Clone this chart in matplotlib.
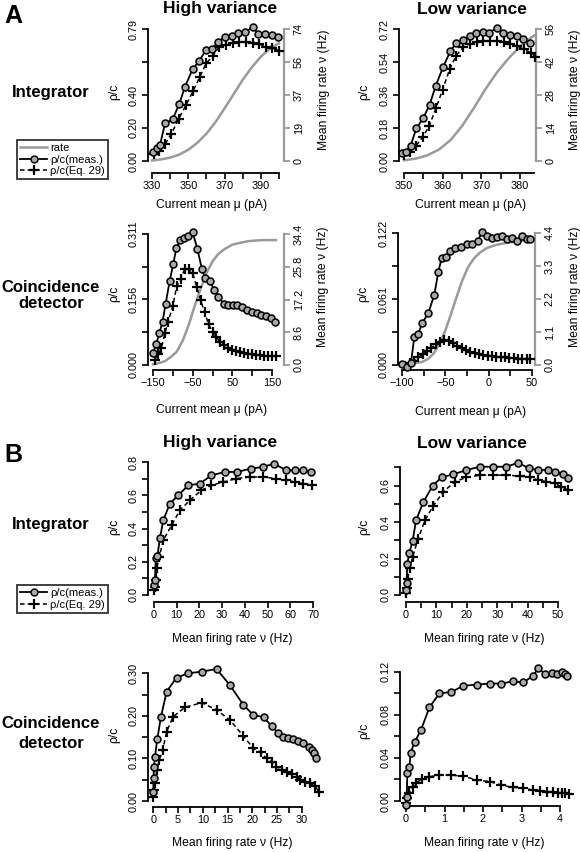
import matplotlib
matplotlib.use("Agg")
import matplotlib.pyplot as plt
from matplotlib.lines import Line2D

plt.rcParams["font.family"] = ["Liberation Sans", "DejaVu Sans"]

# ---- A: rho/c and rate versus current mean ----
# high variance, integrator
a1_mu_meas = [330.4, 332.6, 334.4, 337.2, 341.4, 345.0, 348.2, 352.4, 356.0, 359.8, 362.9,
              366.6, 370.2, 373.9, 377.6, 381.3, 385.8, 388.6, 392.3, 396.0, 399.6]
a1_rho_meas = [0.056, 0.076, 0.096, 0.225, 0.249, 0.341, 0.445, 0.549, 0.600, 0.664, 0.668,
               0.714, 0.744, 0.748, 0.764, 0.774, 0.800, 0.760, 0.760, 0.754, 0.744]
a1_mu_eq = [331.0, 334.0, 337.4, 340.7, 344.8, 348.7, 352.7, 356.4, 359.8, 363.5, 367.0,
            370.7, 374.4, 378.2, 381.8, 385.5, 389.1, 392.8, 396.4, 400.0]
a1_rho_eq = [0.044, 0.060, 0.104, 0.164, 0.254, 0.334, 0.420, 0.504, 0.584, 0.628, 0.684,
             0.694, 0.708, 0.714, 0.710, 0.708, 0.700, 0.684, 0.674, 0.660]
a1_mu_rate = [330, 335, 340, 345, 350, 355, 360, 365, 370, 375, 380, 385, 390, 395, 400]
a1_rate = [0.3, 0.9, 1.9, 3.6, 6.3, 10.2, 15.3, 21.8, 29.5, 37.5, 45.5, 52.5, 58.5, 63.0, 66.0]

# low variance, integrator
a2_mu_meas = [349.4, 350.5, 351.7, 353.2, 355.0, 356.6, 358.2, 360.1, 362.0, 363.5, 365.2,
              367.0, 368.7, 370.4, 372.1, 374.0, 375.7, 377.4, 379.1, 380.9, 382.6]
a2_rho_meas = [0.042, 0.050, 0.084, 0.178, 0.235, 0.305, 0.410, 0.512, 0.600, 0.643, 0.660,
               0.683, 0.700, 0.703, 0.700, 0.727, 0.698, 0.687, 0.684, 0.664, 0.643]
a2_mu_eq = [350.0, 351.5, 353.0, 354.8, 356.5, 358.3, 360.0, 361.8, 363.5, 365.3, 367.0,
            368.8, 370.5, 372.3, 374.0, 375.8, 377.5, 379.3, 381.0, 382.8, 384.0]
a2_rho_eq = [0.035, 0.050, 0.080, 0.130, 0.190, 0.290, 0.390, 0.500, 0.575, 0.620, 0.640,
             0.650, 0.655, 0.655, 0.655, 0.650, 0.640, 0.625, 0.610, 0.590, 0.570]
a2_mu_rate = [350, 353, 356, 359, 362, 365, 368, 371, 374, 377, 380, 383, 384.5]
a2_rate = [0.3, 1.0, 2.4, 4.8, 8.8, 14.8, 22.3, 30.3, 37.5, 43.5, 48.5, 52.5, 54.0]

# high variance, coincidence detector
a3_mu_meas = [-150, -142, -134, -126, -118, -108, -99, -91, -82, -72, -61, -50, -38, -27, -19,
              -6, 4, 15, 28, 38, 51, 61, 74, 87, 99, 112, 122, 136, 148, 158]
a3_rho_meas = [0.028, 0.050, 0.075, 0.103, 0.146, 0.199, 0.240, 0.277, 0.297, 0.302, 0.307,
               0.315, 0.275, 0.229, 0.206, 0.199, 0.178, 0.162, 0.146, 0.142, 0.142, 0.142,
               0.138, 0.131, 0.127, 0.123, 0.119, 0.117, 0.111, 0.101]
a3_mu_eq = [-146, -137, -129, -120, -112, -100, -90, -80, -70, -60, -50, -40, -30, -20, -10, 0,
            10, 19, 29, 39, 49, 59, 69, 79, 89, 99, 109, 119, 129, 139, 149, 159]
a3_rho_eq = [0.012, 0.025, 0.040, 0.075, 0.103, 0.140, 0.188, 0.205, 0.228, 0.228, 0.218,
             0.186, 0.154, 0.125, 0.097, 0.079, 0.066, 0.055, 0.047, 0.041, 0.036, 0.033,
             0.030, 0.028, 0.026, 0.025, 0.024, 0.023, 0.022, 0.022, 0.021, 0.021]
a3_mu_rate = [-150, -135, -120, -105, -90, -75, -60, -45, -30, -15, 0, 15, 30, 50, 70, 90, 110, 130, 160]
a3_rate = [0.2, 0.5, 1.0, 2.1, 3.5, 6.4, 10.5, 15.5, 20.0, 24.2, 27.2, 29.2, 30.4, 31.6, 32.1,
           32.5, 32.7, 32.8, 32.8]

# low variance, coincidence detector
a4_mu_meas = [-99.6, -94.6, -89.6, -85.8, -81.2, -76.5, -69.6, -62.7, -58.1, -54.2, -49.6, -44.6,
              -38.8, -31.9, -25.4, -18.8, -12.7, -7.3, -2.3, 3.5, 9.2, 15.0, 20.8, 26.5, 32.3,
              38.1, 43.8, 47.7]
a4_rho_meas = [0.001, -0.002, 0.002, 0.026, 0.029, 0.039, 0.048, 0.065, 0.086, 0.099, 0.100,
               0.105, 0.108, 0.109, 0.112, 0.112, 0.115, 0.123, 0.119, 0.117, 0.118, 0.119,
               0.116, 0.117, 0.115, 0.119, 0.116, 0.116]
a4_mu_eq = [-96, -91, -86, -81, -76, -71, -66, -61, -56, -51, -46, -41, -36, -31, -26, -21, -16,
            -11, -6, -1, 4, 9, 14, 19, 24, 29, 34, 39, 44, 48]
a4_rho_eq = [-0.001, 0.0015, 0.004, 0.007, 0.010, 0.013, 0.016, 0.019, 0.021, 0.023, 0.022,
             0.020, 0.018, 0.016, 0.014, 0.012, 0.011, 0.010, 0.009, 0.0085, 0.008, 0.0075,
             0.007, 0.007, 0.0065, 0.0065, 0.006, 0.006, 0.006, 0.006]
a4_mu_rate = [-100, -92, -84, -77, -70, -63, -56, -50, -44, -38, -31, -24, -17, -10, -2, 8, 20, 35, 50]
a4_rate = [0.0, 0.03, 0.07, 0.10, 0.2, 0.4, 0.75, 1.15, 1.65, 2.18, 2.78, 3.25, 3.55, 3.75,
           3.9, 4.0, 4.07, 4.13, 4.17]

# ---- B: rho/c versus mean firing rate ----
b1_rate_meas = [0.2, 0.4, 0.8, 1.5, 2.6, 4.1, 7.0, 10.7, 15.1, 20.2, 25.3, 31.2, 36.6, 42.5,
                48.0, 52.7, 58.3, 61.9, 65.6, 69.3]
b1_rho_meas = [0.06, 0.09, 0.22, 0.235, 0.34, 0.45, 0.55, 0.60, 0.66, 0.67, 0.72, 0.74, 0.74,
               0.76, 0.77, 0.79, 0.75, 0.75, 0.75, 0.74]
b1_rate_eq = [0.1, 0.5, 0.9, 1.2, 2.3, 4.1, 7.8, 11.4, 15.8, 20.9, 25.3, 30.5, 36.3, 42.2,
              48.0, 53.9, 58.3, 62.0, 65.5, 69.5]
b1_rho_eq = [0.03, 0.05, 0.09, 0.16, 0.23, 0.33, 0.42, 0.51, 0.57, 0.63, 0.66, 0.68, 0.70,
             0.71, 0.71, 0.70, 0.69, 0.68, 0.67, 0.66]

b2_rate_meas = [0.0, 0.2, 0.4, 1.1, 2.2, 3.3, 5.7, 8.8, 11.7, 15.5, 19.9, 24.3, 28.7, 33.0,
                36.9, 40.5, 43.4, 46.7, 48.9, 51.6, 53.3]
b2_rho_meas = [0.027, 0.064, 0.170, 0.232, 0.298, 0.410, 0.510, 0.600, 0.646, 0.662, 0.686,
               0.704, 0.704, 0.704, 0.726, 0.695, 0.686, 0.686, 0.677, 0.664, 0.640]
b2_rate_eq = [0.0, 0.2, 0.5, 1.3, 2.2, 4.0, 6.2, 9.0, 12.3, 16.1, 19.9, 24.3, 28.7, 33.0, 37.4,
              40.7, 43.4, 46.2, 48.9, 51.1, 53.3]
b2_rho_eq = [0.009, 0.037, 0.090, 0.146, 0.210, 0.310, 0.410, 0.490, 0.567, 0.622, 0.646,
             0.658, 0.658, 0.658, 0.653, 0.646, 0.631, 0.622, 0.613, 0.594, 0.576]

b3_rate_meas = [0.0, 0.05, 0.13, 0.34, 0.8, 1.55, 2.7, 4.7, 7.1, 9.8, 12.8, 15.5, 18.2, 20.2,
                22.3, 23.9, 25.3, 26.3, 27.3, 28.3, 29.3, 30.3, 31.4, 32.0, 32.5, 32.9]
b3_rho_meas = [0.022, 0.053, 0.081, 0.104, 0.145, 0.198, 0.257, 0.290, 0.300, 0.304, 0.310,
               0.272, 0.226, 0.202, 0.197, 0.176, 0.159, 0.151, 0.147, 0.145, 0.142, 0.136,
               0.128, 0.120, 0.112, 0.100]
b3_rate_eq = [0.0, 0.2, 0.4, 0.7, 1.2, 1.9, 2.7, 4.0, 6.4, 9.8, 12.8, 15.5, 18.2, 20.2, 21.7,
              22.9, 23.9, 24.9, 26.0, 27.0, 28.0, 29.0, 29.7, 30.7, 31.7, 32.7, 33.4]
b3_rho_eq = [0.010, 0.026, 0.042, 0.073, 0.096, 0.120, 0.163, 0.198, 0.220, 0.231, 0.214,
             0.190, 0.153, 0.124, 0.114, 0.100, 0.092, 0.081, 0.073, 0.069, 0.063, 0.057,
             0.049, 0.045, 0.042, 0.035, 0.022]

b4_rate_meas = [0.0, 0.02, 0.035, 0.09, 0.12, 0.23, 0.39, 0.61, 0.87, 1.17, 1.49, 1.85, 2.18,
                2.48, 2.77, 3.05, 3.29, 3.44, 3.61, 3.78, 3.91, 4.04, 4.13, 4.19]
b4_rho_meas = [-0.004, 0.004, 0.026, 0.032, 0.045, 0.055, 0.066, 0.087, 0.100, 0.101, 0.107,
               0.108, 0.109, 0.109, 0.111, 0.110, 0.116, 0.123, 0.118, 0.119, 0.118, 0.120,
               0.118, 0.116]
b4_rate_eq = [0.0, 0.035, 0.09, 0.17, 0.26, 0.41, 0.61, 0.87, 1.17, 1.49, 1.84, 2.18, 2.48,
              2.77, 3.05, 3.29, 3.48, 3.65, 3.83, 3.96, 4.04, 4.13, 4.24]
b4_rho_eq = [-0.0015, 0.0025, 0.0077, 0.013, 0.017, 0.020, 0.0226, 0.024, 0.024, 0.023, 0.0195,
             0.018, 0.0148, 0.0127, 0.0118, 0.0102, 0.0096, 0.0087, 0.008, 0.0077, 0.0071,
             0.0071, 0.0065]

W, H = 580, 852
GRAY = "#9a9a9a"
TICK_FS = 7.8
LAB_FS = 8.7

fig = plt.figure(figsize=(W / 100, H / 100), dpi=100)


def add_axes(box, xref, yref):
    # box and references are in pixels of the final image
    l, t, r, b = box
    ax = fig.add_axes([l / W, 1 - b / H, (r - l) / W, (b - t) / H])
    (px0, v0), (px1, v1) = xref
    s = (px1 - px0) / (v1 - v0)
    ax.set_xlim(v0 - (px0 - l) / s, v1 + (r - px1) / s)
    (py0, w0), (py1, w1) = yref
    s = (py0 - py1) / (w1 - w0)
    ax.set_ylim(w0 - (b - py0) / s, w1 + (py1 - t) / s)
    return ax


def style(ax, xticks, xlabels, yticks, ylabels, xbound=None):
    ax.spines["top"].set_visible(False)
    ax.spines["right"].set_visible(False)
    for s in ("left", "bottom"):
        ax.spines[s].set_linewidth(1.3)
    ax.spines["left"].set_bounds(yticks[0], yticks[-1])
    ax.spines["bottom"].set_bounds(*(xbound or (xticks[0], xticks[-1])))
    ax.set_xticks(xticks, xlabels)
    ax.set_yticks(yticks, ylabels)
    ax.tick_params(direction="out", length=4.5, width=1.2, labelsize=TICK_FS)
    ax.tick_params(axis="x", pad=1.5)
    ax.tick_params(axis="y", pad=2.5, labelrotation=90)
    for t in ax.get_yticklabels():
        t.set_va("center")


def rate_axis(ax, rticks, rlabels):
    tw = ax.twinx()
    lo, hi = ax.get_ylim()
    k = rticks[-1] / ax.get_yticks()[-1]
    tw.set_ylim(lo * k, hi * k)
    for s in ("left", "top", "bottom"):
        tw.spines[s].set_visible(False)
    tw.spines["right"].set_color(GRAY)
    tw.spines["right"].set_linewidth(1.6)
    tw.spines["right"].set_bounds(rticks[0], rticks[-1])
    tw.set_yticks(rticks, rlabels)
    tw.tick_params(direction="out", length=4.5, width=1.3, color=GRAY,
                   labelsize=TICK_FS, pad=2.5, labelrotation=90)
    for t in tw.get_yticklabels():
        t.set_va("center")
    ax.set_zorder(tw.get_zorder() + 1)
    ax.patch.set_visible(False)
    return tw


def put_xlabel(ax, text, x, y):
    ax.set_xlabel(text, fontsize=LAB_FS)
    ax.xaxis.set_label_coords(x / W, 1 - y / H, transform=fig.transFigure)
    ax.xaxis.label.set_va("center")


def put_ylabel(ax, text, x, y):
    ax.set_ylabel(text, fontsize=LAB_FS, rotation=90)
    ax.yaxis.set_label_coords(x / W, 1 - y / H, transform=fig.transFigure)
    ax.yaxis.label.set_va("center")
    ax.yaxis.label.set_ha("center")


def draw_pair(ax, xm, ym, xe, ye):
    ax.plot(xm, ym, "-", color="black", lw=1.3, marker="o", ms=5,
            mfc="#a8a8a8", mec="black", mew=1.1, zorder=4, clip_on=False)
    ax.plot(xe, ye, "--", color="black", lw=1.1, dashes=(3, 2), marker="+",
            ms=7, mew=1.6, zorder=3, clip_on=False)


def fig_text(x, y, s, **kw):
    fig.text(x / W, 1 - y / H, s, **kw)


MU = "Current mean \u03bc (pA)"
NU = "Mean firing rate \u03bd (Hz)"
RHO = "\u03c1/c"

# ---- panel A ----
ax = add_axes((148, 24, 284, 173), ((152, 330), (279, 400)), ((161, 0), (29, 0.79)))
style(ax, [330, 340, 350, 360, 370, 380, 390, 400], ["330", "", "350", "", "370", "", "390", ""],
      [0, 0.1975, 0.395, 0.5925, 0.79], ["0.00", "0.20", "0.40", "", "0.79"])
tw = rate_axis(ax, [0, 18.5, 37, 55.5, 74], ["0", "19", "37", "56", "74"])
tw.plot(a1_mu_rate, a1_rate, color=GRAY, lw=1.8)
draw_pair(ax, a1_mu_meas, a1_rho_meas, a1_mu_eq, a1_rho_eq)
put_xlabel(ax, MU, 212, 205)
put_ylabel(ax, RHO, 114, 92)
put_ylabel(tw, NU, 324, 90)

ax = add_axes((399, 24, 536, 173), ((404, 350), (520, 380)), ((161, 0), (29, 0.72)))
style(ax, [350, 355, 360, 365, 370, 375, 380], ["350", "", "360", "", "370", "", "380"],
      [0, 0.18, 0.36, 0.54, 0.72], ["0.00", "0.18", "0.36", "0.54", "0.72"], xbound=(350, 383.5))
tw = rate_axis(ax, [0, 14, 28, 42, 56], ["0", "14", "28", "42", "56"])
tw.plot(a2_mu_rate, a2_rate, color=GRAY, lw=1.8)
draw_pair(ax, a2_mu_meas, a2_rho_meas, a2_mu_eq, a2_rho_eq)
put_xlabel(ax, MU, 471, 205)
put_ylabel(ax, RHO, 364, 92)
put_ylabel(tw, NU, 575, 90)

ax = add_axes((148, 229, 284, 370), ((153, -150), (272, 150)), ((365, 0), (234, 0.311)))
style(ax, [-150, -100, -50, 0, 50, 100, 150], ["\u2212150", "", "\u221250", "", "50", "", "150"],
      [0, 0.07775, 0.1555, 0.23325, 0.311], ["0.000", "", "0.156", "", "0.311"])
tw = rate_axis(ax, [0, 8.6, 17.2, 25.8, 34.4], ["0.0", "8.6", "17.2", "25.8", "34.4"])
tw.plot(a3_mu_rate, a3_rate, color=GRAY, lw=1.8)
draw_pair(ax, a3_mu_meas, a3_rho_meas, a3_mu_eq, a3_rho_eq)
put_xlabel(ax, MU, 212, 410)
put_ylabel(ax, RHO, 114, 294)
put_ylabel(tw, NU, 323, 287)

ax = add_axes((398, 228, 535, 370), ((402, -100), (532, 50)), ((365, 0), (233, 0.122)))
style(ax, [-100, -75, -50, -25, 0, 25, 50], ["\u2212100", "", "\u221250", "", "0", "", "50"],
      [0, 0.0305, 0.061, 0.0915, 0.122], ["0.000", "", "0.061", "", "0.122"])
tw = rate_axis(ax, [0, 1.1, 2.2, 3.3, 4.4], ["0.0", "1.1", "2.2", "3.3", "4.4"])
tw.plot(a4_mu_rate, a4_rate, color=GRAY, lw=1.8)
draw_pair(ax, a4_mu_meas, a4_rho_meas, a4_mu_eq, a4_rho_eq)
put_xlabel(ax, MU, 471, 412)
put_ylabel(ax, RHO, 363, 294)
put_ylabel(tw, NU, 575, 287)

# ---- panel B ----
ax = add_axes((148, 457, 318, 602), ((154, 0), (313, 70)), ((595, 0), (462, 0.8)))
style(ax, [0, 10, 20, 30, 40, 50, 60, 70], ["0", "10", "20", "30", "40", "50", "60", "70"],
      [0, 0.1, 0.2, 0.3, 0.4, 0.5, 0.6, 0.7, 0.8],
      ["0.0", "", "0.2", "", "0.4", "", "0.6", "", "0.8"])
draw_pair(ax, b1_rate_meas, b1_rho_meas, b1_rate_eq, b1_rho_eq)
put_xlabel(ax, NU, 232, 639)
put_ylabel(ax, RHO, 114, 527)

ax = add_axes((400, 463, 572, 602), ((406, 0), (558, 50)), ((595, 0), (485.7, 0.6)))
style(ax, [0, 5, 10, 15, 20, 25, 30, 35, 40, 45, 50],
      ["0", "", "10", "", "20", "", "30", "", "40", "", "50"],
      [0, 0.1, 0.2, 0.3, 0.4, 0.5, 0.6, 0.7], ["0.0", "", "0.2", "", "0.4", "", "0.6", ""])
draw_pair(ax, b2_rate_meas, b2_rho_meas, b2_rate_eq, b2_rho_eq)
put_xlabel(ax, NU, 484, 639)
put_ylabel(ax, RHO, 364, 527)

ax = add_axes((148, 668, 322, 807), ((153.3, 0), (301.7, 30)), ((801, 0), (673.3, 0.30)))
style(ax, [0, 2.5, 5, 7.5, 10, 12.5, 15, 17.5, 20, 22.5, 25, 27.5, 30],
      ["0", "", "5", "", "10", "", "15", "", "20", "", "25", "", "30"],
      [0, 0.05, 0.10, 0.15, 0.20, 0.25, 0.30], ["0.00", "", "0.10", "", "0.20", "", "0.30"])
draw_pair(ax, b3_rate_meas, b3_rho_meas, b3_rate_eq, b3_rho_eq)
put_xlabel(ax, NU, 232, 843)
put_ylabel(ax, RHO, 114, 735)

ax = add_axes((400, 667, 573, 806), ((406, 0), (560, 4)), ((801, 0), (671.7, 0.12)))
style(ax, [0, 0.5, 1, 1.5, 2, 2.5, 3, 3.5, 4], ["0", "", "1", "", "2", "", "3", "", "4"],
      [0, 0.02, 0.04, 0.06, 0.08, 0.10, 0.12], ["0.00", "", "0.04", "", "0.08", "", "0.12"])
draw_pair(ax, b4_rate_meas, b4_rho_meas, b4_rate_eq, b4_rho_eq)
put_xlabel(ax, NU, 484, 843)
put_ylabel(ax, RHO, 364, 731)

# ---- titles and legends ----
bold = dict(fontsize=12, fontweight="bold", ha="center", va="center")
fig_text(4, 16, "A", fontsize=18, fontweight="bold", ha="left", va="center")
fig_text(4, 455, "B", fontsize=18, fontweight="bold", ha="left", va="center")
for yy in (9, 443):
    fig_text(220, yy, "High variance", fontsize=12.5, fontweight="bold", ha="center", va="center")
    fig_text(472, yy, "Low variance", fontsize=12.5, fontweight="bold", ha="center", va="center")
fig_text(51, 92, "Integrator", **bold)
fig_text(51, 525, "Integrator", **bold)
fig_text(51, 287, "Coincidence", **bold)
fig_text(51, 303, "detector", **bold)
fig_text(51, 723, "Coincidence", **bold)
fig_text(51, 744, "detector", **bold)

h_rate = Line2D([], [], color=GRAY, lw=1.8)
h_meas = Line2D([], [], color="black", lw=1.3, marker="o", ms=5, mfc="#a8a8a8", mec="black")
h_eq = Line2D([], [], color="black", lw=1.1, ls="--", dashes=(3, 2), marker="+", ms=7, mew=1.6)
leg_kw = dict(loc="upper left", fontsize=8, frameon=True, fancybox=False, edgecolor="black",
              handlelength=2.4, borderpad=0.3, labelspacing=0.12, handletextpad=0.3,
              borderaxespad=0)
la = fig.legend([h_rate, h_meas, h_eq], ["rate", "\u03c1/c(meas.)", "\u03c1/c(Eq. 29)"],
                bbox_to_anchor=(17 / W, 1 - 140 / H), **leg_kw)
lb = fig.legend([h_meas, h_eq], ["\u03c1/c(meas.)", "\u03c1/c(Eq. 29)"],
                bbox_to_anchor=(17 / W, 1 - 585 / H), **leg_kw)
for lg in (la, lb):
    lg.get_frame().set_linewidth(1.3)
    lg.get_frame().set_boxstyle("square", pad=0)

fig.savefig("out.png", dpi=100)
